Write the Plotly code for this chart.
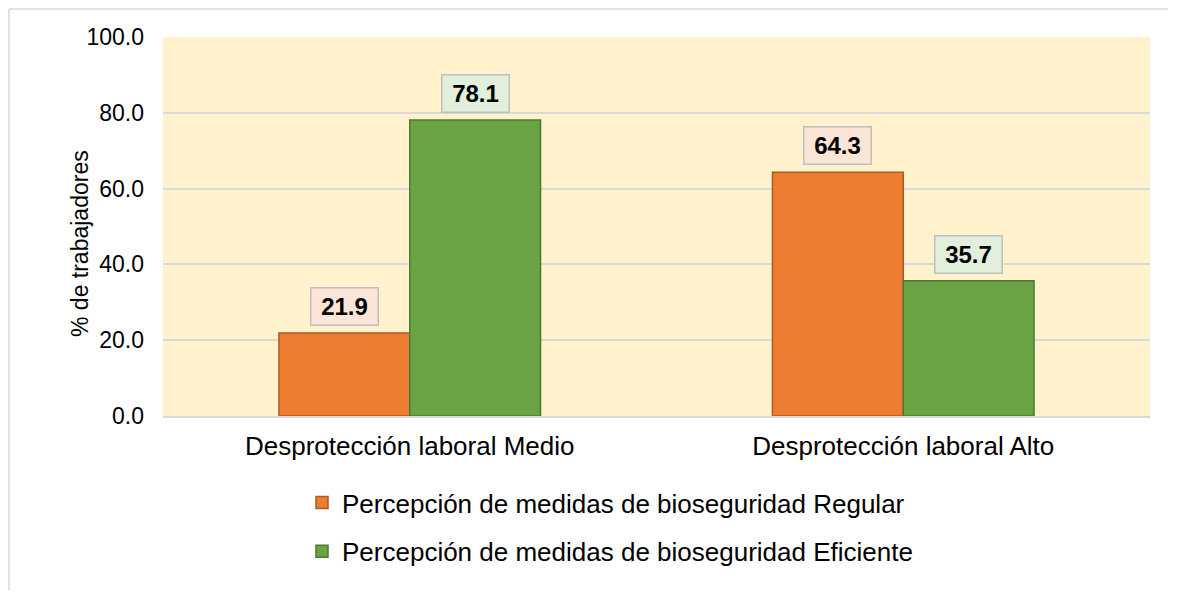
import plotly.graph_objects as go

categories = ["Desprotección laboral Medio", "Desprotección laboral Alto"]
series_names = ["Percepción de medidas de bioseguridad Regular",
                "Percepción de medidas de bioseguridad Eficiente"]
regular = [21.9, 64.3]
eficiente = [78.1, 35.7]
y_ticks = [0, 20, 40, 60, 80, 100]

# the page body adds an 8px offset, so figure coords = screen coords - 8
W, H = 1160, 582
ML, MR, MT, MB = 155, 18, 29, 174
plot_w = W - ML - MR
plot_h = H - MT - MB

FONT = "Liberation Sans, Arial"
colors = ["#ED7D31", "#6AA343"]
borders = ["#AE5A21", "#4E7A30"]
label_bg = ["#FBE5D6", "#E2EFDA"]
bargap = 0.47

fig = go.Figure()
for i, (name, vals) in enumerate(zip(series_names, [regular, eficiente])):
    fig.add_trace(go.Bar(
        x=categories, y=vals, name=name, legendgroup=f"g{i}",
        marker=dict(color=colors[i], line=dict(color=borders[i], width=1.5)),
    ))

# boxed data labels above each bar
bar_px = plot_w / len(categories) * (1 - bargap) / 2
for i, vals in enumerate([regular, eficiente]):
    shift = (i - 0.5) * bar_px
    for cat, v in zip(categories, vals):
        fig.add_annotation(
            x=cat, y=v, xshift=shift, yshift=7, yanchor="bottom",
            text=f"<b>{v:.1f}</b>", showarrow=False,
            font=dict(family=FONT, size=24, color="#000000"),
            width=60, height=30,
            bgcolor=label_bg[i], bordercolor="#BFBFBF", borderwidth=1.5, borderpad=3,
        )

# y axis title
fig.add_annotation(
    xref="paper", yref="paper", x=(72 - ML) / plot_w, y=(MT + plot_h - 236) / plot_h,
    xanchor="center", yanchor="middle",
    text="% de trabajadores", textangle=-90, showarrow=False,
    font=dict(family=FONT, size=23, color="#000000"),
)

# light outer chart frame: only the left and top edges are visible
x_left = (1 - ML) / plot_w
y_top = 1 + (MT - 1) / plot_h
frame = dict(color="#D9D9D9", width=1.5)
fig.add_shape(type="line", xref="paper", yref="paper", x0=x_left, x1=(W + 60 - ML) / plot_w,
              y0=y_top, y1=y_top, line=frame, layer="below")
fig.add_shape(type="line", xref="paper", yref="paper", x0=x_left, x1=x_left,
              y0=-(MB + 60) / plot_h, y1=y_top, line=frame, layer="below")

fig.update_layout(
    width=W, height=H,
    margin=dict(l=ML, r=MR, t=MT, b=MB),
    barmode="group", bargap=bargap, bargroupgap=0,
    paper_bgcolor="#FFFFFF", plot_bgcolor="#FFF2CC",
    font=dict(family=FONT, size=23, color="#000000"),
    legend=dict(orientation="v", x=(294 - ML) / plot_w, xanchor="left",
                y=-(471 - MT - plot_h) / plot_h, yanchor="top",
                traceorder="grouped", tracegroupgap=12,
                font=dict(size=26), itemwidth=30),
    showlegend=True,
)
fig.update_yaxes(range=[0, 100], tickvals=y_ticks, tickformat=".1f",
                 gridcolor="#D9D9D9", gridwidth=1.5, zeroline=False,
                 showline=False, ticks="", automargin=False,
                 ticklabelstandoff=18, tickfont=dict(size=23))
fig.update_xaxes(showline=True, linecolor="#D9D9D9", linewidth=1.5,
                 ticks="", automargin=False, ticklabelstandoff=6,
                 tickfont=dict(size=26))

fig.write_html("out.html")
